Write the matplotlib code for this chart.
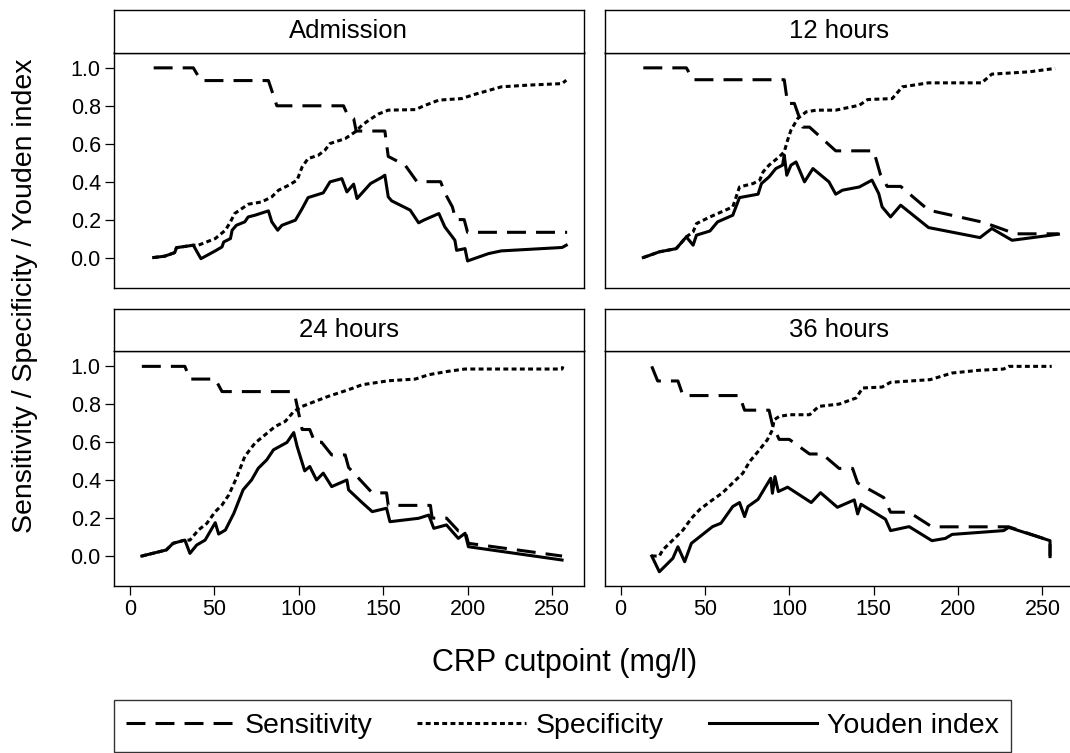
import matplotlib
matplotlib.use("Agg")
import matplotlib.pyplot as plt
from matplotlib.lines import Line2D

plt.rcParams['font.family'] = ['Liberation Sans', 'DejaVu Sans']

# ---- datos ----
paneles = ['Admission', '12 hours', '24 hours', '36 hours']

# Admission
adm_sens_x = [14, 37.5, 42, 82, 87, 126.5, 129, 132.5, 134, 151, 153, 163, 170, 184, 187,
              191, 193, 198, 200, 259]
adm_sens_y = [1.0, 1.0, 0.933, 0.933, 0.8, 0.8, 0.75, 0.733, 0.667, 0.667, 0.533, 0.487, 0.4, 0.4, 0.333,
              0.267, 0.2, 0.2, 0.133, 0.133]
adm_spec_x = [14, 20.5, 26.5, 27.5, 37.5, 40.5, 50.5, 56.5, 59.5, 62, 70, 78, 84, 88, 94,
              99, 102, 105.5, 111.5, 115.5, 118.5, 127.5, 133.5, 137.5, 141.5, 147, 153, 169, 175, 183,
              196.5, 204.5, 214.5, 220, 236, 256, 258.5]
adm_spec_y = [0.0, 0.007, 0.026, 0.052, 0.065, 0.065, 0.10, 0.144, 0.188, 0.232, 0.281, 0.293, 0.32, 0.355, 0.381,
              0.408, 0.478, 0.522, 0.539, 0.566, 0.601, 0.627, 0.663, 0.698, 0.724, 0.756, 0.777, 0.78, 0.803, 0.83,
              0.838, 0.861, 0.886, 0.90, 0.909, 0.917, 0.935]
adm_youd_x = [14, 20.5, 26.5, 27.5, 37.5, 42, 50.5, 54.5, 55.5, 59.5, 60.5, 63, 68, 70, 74,
              82, 84, 87.5, 90, 98, 102, 105.5, 114.5, 118.5, 125.5, 128.5, 132.5, 134.5, 142.5, 149,
              151, 153, 155, 166, 171, 174, 183, 186.5, 192.5, 193.5, 198.5, 200, 212.5, 220, 256, 258.5]
adm_youd_y = [0.0, 0.007, 0.026, 0.052, 0.065, -0.006, 0.035, 0.056, 0.082, 0.10, 0.144, 0.17, 0.188, 0.214, 0.223,
              0.246, 0.188, 0.144, 0.17, 0.197, 0.258, 0.316, 0.341, 0.399, 0.416, 0.346, 0.387, 0.311, 0.39, 0.422,
              0.434, 0.32, 0.299, 0.25, 0.183, 0.197, 0.232, 0.162, 0.091, 0.038, 0.047, -0.018, 0.021, 0.035, 0.053, 0.065]

# 12 hours
h12_sens_x = [13.5, 39, 43, 97, 99, 103, 108, 112, 127.5, 150, 154, 158, 166, 182.5, 214, 220, 234, 259.5]
h12_sens_y = [1.0, 1.0, 0.9375, 0.9375, 0.8125, 0.8125, 0.6875, 0.6875, 0.5625, 0.5625, 0.4375, 0.375, 0.375,
              0.25, 0.1875, 0.17, 0.125, 0.125]
h12_spec_x = [13.5, 23, 33, 39, 43, 45, 53, 66.5, 70.5, 78.5, 82.5, 84.5, 88, 94, 97,
              99, 101, 105, 110, 116, 127.5, 141.5, 146.5, 161, 167, 182.5, 214, 220, 242, 257.5]
h12_spec_y = [0.0, 0.03, 0.047, 0.109, 0.135, 0.179, 0.214, 0.267, 0.372, 0.39, 0.408, 0.452, 0.487, 0.531, 0.557,
              0.619, 0.672, 0.733, 0.768, 0.777, 0.777, 0.803, 0.833, 0.838, 0.90, 0.921, 0.921, 0.967, 0.979, 0.997]
h12_youd_x = [13.5, 23, 33, 39, 43, 45, 53, 57.5, 66.5, 70.5, 81.5, 83.5, 88, 92, 96,
              97, 98.5, 101, 104, 109, 114, 123.5, 127.5, 131.5, 141.5, 149, 153, 155, 160, 166,
              182.5, 213, 220, 232, 259.5]
h12_youd_y = [0.0, 0.03, 0.047, 0.109, 0.065, 0.118, 0.14, 0.188, 0.223, 0.316, 0.334, 0.39, 0.425, 0.469, 0.487,
              0.54, 0.434, 0.487, 0.504, 0.399, 0.469, 0.399, 0.334, 0.355, 0.372, 0.408, 0.337, 0.267, 0.214, 0.276,
              0.158, 0.105, 0.153, 0.091, 0.123]

# 24 hours
h24_sens_x = [7, 32.5, 35.5, 50.5, 54.5, 96, 98, 102, 106.5, 109.5, 113.5, 119.5, 127.5, 129.5, 143.5,
              152, 153, 178, 179, 187.5, 194.5, 198.5, 200.5, 256]
h24_sens_y = [1.0, 1.0, 0.933, 0.933, 0.867, 0.867, 0.833, 0.667, 0.667, 0.6, 0.6, 0.533, 0.533, 0.467, 0.333,
              0.333, 0.267, 0.267, 0.2, 0.2, 0.133, 0.133, 0.067, 0.0]
h24_spec_x = [7, 21.5, 25.5, 32.5, 35.5, 40.5, 45.5, 50.5, 54.5, 58.5, 63, 68, 74, 80, 86,
              92, 97, 102, 109.5, 117.5, 129.5, 137.5, 153, 169, 177, 188.5, 198.5, 256, 256.5]
h24_spec_y = [0.0, 0.032, 0.067, 0.084, 0.084, 0.137, 0.172, 0.234, 0.269, 0.322, 0.41, 0.525, 0.595, 0.639, 0.683,
              0.71, 0.762, 0.789, 0.815, 0.842, 0.877, 0.903, 0.924, 0.933, 0.956, 0.974, 0.986, 0.986, 1.0]
h24_youd_x = [7, 21.5, 25.5, 32.5, 35.5, 39.5, 44.5, 50.5, 52.5, 56.5, 61.5, 67, 72, 76, 81,
              85, 93, 97, 99, 103.5, 106.5, 110.5, 114.5, 119.5, 128.5, 129.5, 137.5, 143.5, 152, 154,
              171, 177, 180, 187.5, 194.5, 198.5, 200.5, 256]
h24_youd_y = [0.0, 0.032, 0.067, 0.084, 0.014, 0.058, 0.084, 0.176, 0.116, 0.137, 0.225, 0.349, 0.401, 0.463, 0.507,
              0.56, 0.599, 0.651, 0.578, 0.449, 0.472, 0.401, 0.437, 0.366, 0.401, 0.349, 0.282, 0.234, 0.252, 0.181,
              0.199, 0.216, 0.146, 0.164, 0.093, 0.12, 0.049, -0.021]

# 36 hours
h36_sens_x = [18.5, 22, 34, 37, 70.5, 73.5, 88, 90, 94, 100, 112, 119.5, 129.5, 137.5, 140.5,
              156, 160, 171, 184.5, 230, 254.5, 254.5]
h36_sens_y = [1.0, 0.923, 0.923, 0.846, 0.846, 0.769, 0.769, 0.692, 0.615, 0.615, 0.538, 0.538, 0.462, 0.462, 0.385,
              0.308, 0.231, 0.231, 0.154, 0.154, 0.081, 0.0]
h36_spec_x = [18.5, 23, 25, 33, 37, 42, 47, 54.5, 60.5, 72.5, 76.5, 81.5, 87, 90, 91,
              94, 100, 112, 117.5, 129.5, 139.5, 143.5, 155, 160, 183.5, 196.5, 212, 227, 230, 255.5]
h36_spec_y = [0.0, 0.0, 0.032, 0.102, 0.137, 0.199, 0.246, 0.296, 0.334, 0.437, 0.498, 0.551, 0.613, 0.665, 0.718,
              0.736, 0.745, 0.745, 0.789, 0.801, 0.833, 0.886, 0.891, 0.916, 0.93, 0.965, 0.979, 0.986, 1.0, 1.0]
h36_youd_x = [18.5, 23, 31, 34, 38, 42, 54.5, 59.5, 66.5, 70.5, 73.5, 75.5, 81.5, 86, 89,
              90, 91.5, 93.5, 99, 113, 118.5, 128.5, 138.5, 140.5, 142.5, 157, 160, 171, 184.5, 192.5,
              196.5, 227, 230, 254.5, 254.5]
h36_youd_y = [0.0, -0.083, -0.012, 0.049, -0.03, 0.067, 0.155, 0.173, 0.261, 0.282, 0.208, 0.261, 0.299, 0.366, 0.41,
              0.331, 0.419, 0.34, 0.363, 0.282, 0.334, 0.257, 0.296, 0.222, 0.273, 0.194, 0.134, 0.155, 0.081, 0.093,
              0.114, 0.134, 0.151, 0.081, -0.003]

x_ticks = [0, 50, 100, 150, 200, 250]
y_ticks = [0.0, 0.2, 0.4, 0.6, 0.8, 1.0]

datos = [
    (adm_sens_x, adm_sens_y, adm_spec_x, adm_spec_y, adm_youd_x, adm_youd_y),
    (h12_sens_x, h12_sens_y, h12_spec_x, h12_spec_y, h12_youd_x, h12_youd_y),
    (h24_sens_x, h24_sens_y, h24_spec_x, h24_spec_y, h24_youd_x, h24_youd_y),
    (h36_sens_x, h36_sens_y, h36_spec_x, h36_spec_y, h36_youd_x, h36_youd_y),
]

# ---- estilos ----
LW = 2.2
SENS_DASH = (6.2, 3.3)
SPEC_DASH = (1.6, 1.1)

W, H = 1070, 753
fig = plt.figure(figsize=(W / 100, H / 100), dpi=100)


def caja(x0, y0, x1, y1):
    # pixeles (desde arriba) -> fraccion de figura
    return [x0 / W, 1 - y1 / H, (x1 - x0) / W, (y1 - y0) / H]


cols = [(114, 583.5), (604.5, 1074)]
filas = [(9.5, 52.5, 287.5), (308.5, 351, 586)]

for i, nombre in enumerate(paneles):
    fila, col = divmod(i, 2)
    x0, x1 = cols[col]
    s0, p0, p1 = filas[fila]

    ax = fig.add_axes(caja(x0, p0, x1, p1))
    sx, sy, ex, ey, yx, yy = datos[i]
    ax.plot(sx, sy, color='black', lw=LW, dashes=SENS_DASH)
    ax.plot(ex, ey, color='black', lw=LW, dashes=SPEC_DASH)
    ax.plot(yx, yy, color='black', lw=LW)
    ax.set_xlim(-9.5, 268.7)
    ax.set_ylim(-0.158, 1.081)
    for s in ax.spines.values():
        s.set_linewidth(1.0)
    ax.tick_params(direction='out', length=6.5, width=0.9, labelsize=15.5, pad=3)
    if col == 0:
        ax.set_yticks(y_ticks)
        ax.set_yticklabels(['%.1f' % v for v in y_ticks])
    else:
        ax.set_yticks([])
    if fila == 1:
        ax.set_xticks(x_ticks)
    else:
        ax.set_xticks([])

    # tira del titulo
    st = fig.add_axes(caja(x0, s0, x1, p0))
    st.set_xticks([])
    st.set_yticks([])
    for s in st.spines.values():
        s.set_linewidth(1.0)
    st.text(0.5 * (583.5 - 114) / (x1 - x0) if col == 1 else 0.5, 0.5, nombre,
            transform=st.transAxes, ha='center', va='center', fontsize=18.5)

fig.text(25 / W, 1 - 296 / H, 'Sensitivity / Specificity / Youden index',
         rotation=90, ha='center', va='center', fontsize=20.5)
fig.text(565 / W, 1 - 663 / H, 'CRP cutpoint (mg/l)', ha='center', va='center', fontsize=22)

handles = [
    Line2D([], [], color='black', lw=LW, dashes=SENS_DASH),
    Line2D([], [], color='black', lw=LW, dashes=SPEC_DASH),
    Line2D([], [], color='black', lw=LW),
]
leg = fig.legend(handles, ['Sensitivity', 'Specificity', 'Youden index'],
                 loc='upper left', bbox_to_anchor=(113.5 / W, 1 - 701 / H, (1011.5 - 113.5) / W, 0.001),
                 mode='expand', ncol=3, frameon=True, fancybox=False, fontsize=20.5,
                 handlelength=3.8, handletextpad=0.35, borderaxespad=0, borderpad=0.45)
leg.get_frame().set_edgecolor('black')
leg.get_frame().set_linewidth(1.0)

fig.savefig('out.png', dpi=100)
